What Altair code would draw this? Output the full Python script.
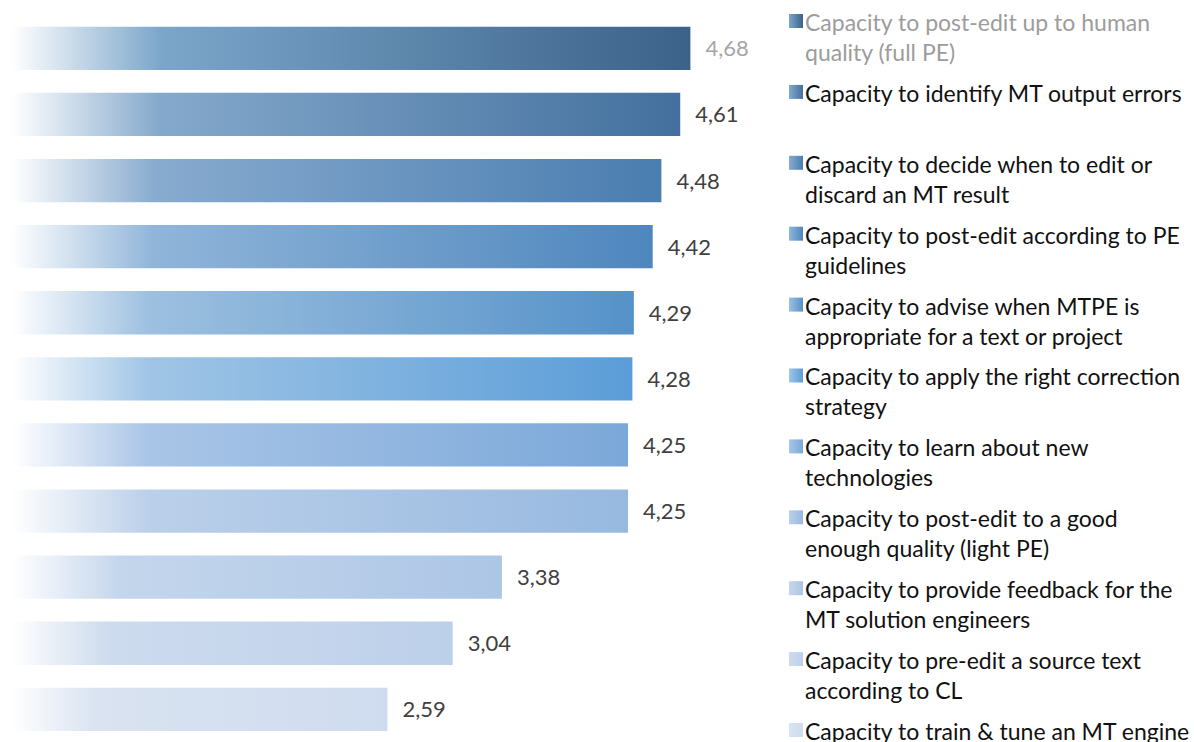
import altair as alt
import pandas as pd

categories = [
    "Capacity to post-edit up to human\nquality (full PE)",
    "Capacity to identify MT output errors",
    "Capacity to decide when to edit or\ndiscard an MT result",
    "Capacity to post-edit according to PE\nguidelines",
    "Capacity to advise when MTPE is\nappropriate for a text or project",
    "Capacity to apply the right correction\nstrategy",
    "Capacity to learn about new\ntechnologies",
    "Capacity to post-edit to a good\nenough quality (light PE)",
    "Capacity to provide feedback for the\nMT solution engineers",
    "Capacity to pre-edit a source text\naccording to CL",
    "Capacity to train & tune an MT engine",
]
values = [4.68, 4.61, 4.48, 4.42, 4.29, 4.28, 4.25, 4.25, 3.38, 3.04, 2.59]
end_colors = ["#3B6289", "#43709E", "#4A7DB0", "#4E86BE", "#5592C9", "#5B9DD8",
              "#7BA8D9", "#97B9E0", "#ADC6E6", "#BDD0EA", "#CFDCEF"]
mid_colors = ["#7BA6CA", "#85A9CC", "#88ABCF", "#90B5D9", "#9DC0E0", "#A0C5E6",
              "#A9C5E7", "#BBD0EA", "#C4D6EC", "#CDDBEE", "#D9E3F1"]

keys = [c.replace("\n", " ") for c in categories]
line1 = [c.split("\n")[0] for c in categories]
line2 = [c.split("\n")[1] if "\n" in c else "" for c in categories]

df = pd.DataFrame({
    "idx": list(range(len(categories))),
    "category": keys,
    "value": values,
    "line1": line1,
    "line2": line2,
})

FONT = "Lato"

x = alt.X("value:Q", scale=alt.Scale(domain=[0, 5.25], nice=False, zero=True), axis=None)
y = alt.Y("category:N", sort=keys,
          scale=alt.Scale(domain=keys, paddingInner=0.345, paddingOuter=0.164, align=0.862),
          axis=None)


def grad(stops):
    return alt.LinearGradient(
        gradient="linear",
        stops=[alt.GradientStop(color=c, offset=o) for c, o in stops],
        x1=0, x2=1, y1=0, y2=0,
    )


bar_layers = []
for i in range(len(categories)):
    g = grad([("#ffffff", 0), (mid_colors[i], 0.22), (end_colors[i], 1)])
    bar_layers.append(
        alt.Chart(df).transform_filter(alt.datum.idx == i)
        .mark_bar(fill=g, strokeWidth=0)
        .encode(x=x, y=y)
    )

labels = alt.Chart(df).transform_calculate(
    lab="replace(format(datum.value, '.2f'), '.', ',')"
).mark_text(align="left", baseline="middle", dx=15, dy=1, font=FONT, fontSize=22).encode(
    x=x, y=y, text="lab:N",
    color=alt.condition(alt.datum.idx == 0, alt.value("#A6A6A6"), alt.value("#404040")),
)

bars = alt.layer(*bar_layers, labels).properties(width=761, height=726)

ly = alt.Y("category:N", sort=keys,
           scale=alt.Scale(type="point", domain=keys, padding=0.12, align=0.882), axis=None)

sq_layers = []
for i in range(len(categories)):
    g = grad([(mid_colors[i], 0), (end_colors[i], 1)])
    sq_layers.append(
        alt.Chart(df).transform_filter(alt.datum.idx == i)
        .mark_square(size=196, fill=g, opacity=1, yOffset=-2)
        .encode(y=ly, x=alt.value(23))
    )

txt_color = alt.condition(alt.datum.idx == 0, alt.value("#9C9C9C"), alt.value("#111111"))
t1 = alt.Chart(df).mark_text(align="left", baseline="middle", font=FONT, fontSize=23, dy=1).encode(
    y=ly, x=alt.value(32), text="line1:N", color=txt_color)
t2 = alt.Chart(df).mark_text(align="left", baseline="middle", font=FONT, fontSize=23, dy=31).encode(
    y=ly, x=alt.value(32), text="line2:N", color=txt_color)

legend = alt.layer(*sq_layers, t1, t2).properties(width=421, height=726)

chart = alt.hconcat(bars, legend, spacing=0).properties(
    padding={"left": 12, "top": 8, "right": 0, "bottom": 0}
).configure_view(strokeWidth=0)

chart.save("out.html", embed_options={"renderer": "svg", "actions": False})
